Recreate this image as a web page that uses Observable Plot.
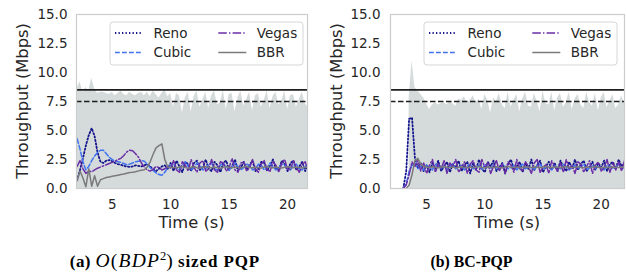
<!DOCTYPE html>
<html><head><meta charset="utf-8">
<script src="https://cdn.jsdelivr.net/npm/d3@7"></script>
<script src="https://cdn.jsdelivr.net/npm/@observablehq/plot@0.6"></script>
<style>
html,body{margin:0;padding:0;background:#fff;}
#wrap{position:relative;width:626px;height:272px;overflow:hidden;font-family:"DejaVu Sans",sans-serif;}
#pa{position:absolute;left:0;top:0;}
#pb{position:absolute;left:313px;top:0;}
#cap{position:absolute;left:0;top:0;}
</style></head><body>
<div id="wrap"><div id="pa"></div><div id="pb"></div><svg id="cap" width="626" height="272"></svg></div>
<script>
// ---- data ----
const T = [2,2.25,2.5,2.75,3,3.25,3.5,3.75,4,4.25,4.5,4.75,5,5.25,5.5,5.75,6,6.25,6.5,6.75,7,7.25,7.5,7.75,8,8.25,8.5,8.75,9,9.25,9.5,9.75,10,10.25,10.5,10.75,11,11.25,11.5,11.75,12,12.25,12.5,12.75,13,13.25,13.5,13.75,14,14.25,14.5,14.75,15,15.25,15.5,15.75,16,16.25,16.5,16.75,17,17.25,17.5,17.75,18,18.25,18.5,18.75,19,19.25,19.5,19.75,20,20.25,20.5,20.75,21,21.25,21.5,21.75,22];
const SERIES = ["Reno","Cubic","Vegas","BBR"];
const X_TICKS = [5,10,15,20];
const Y_TICKS = [0,2.5,5,7.5,10,12.5,15];
const LINK_RATE = 8.5;
const THRESHOLD = 7.5;

// (a) O(BDP^2) sized PQP
const capA = [8.6,9.2,8.3,8.7,8.4,9.5,8.6,8.2,8.3,8.3,8.2,8.1,8.3,8.0,8.2,8.4,8.1,8.0,8.3,8.1,8.0,8.2,8.3,8.0,8.3,7.9,8.4,8.1,7.8,8.2,8.5,7.9,8.2,
  7.0,8.2,8.0,6.5,7.8,8.3,6.6,7.9,8.4,7.0,7.6,8.3,6.9,8.0,8.4,7.2,7.4,8.5,6.8,8.1,8.2,6.6,7.8,8.4,7.1,7.7,8.3,6.7,8.0,8.2,7.0,7.6,8.4,6.9,7.9,8.3,7.2,7.5,8.4,6.8,8.0,8.1,7.0,7.7,8.3,7.3,7.0,7.6];
const renoA = [0.7,1.6,2.6,3.7,4.6,5.2,4.5,3.1,2.3,2.2,2.4,2.45,2.35,2.2,2.1,2.05,1.95,1.9,1.85,1.9,2.0,1.95,1.9,2.0,2.1,1.9,1.65,1.5,1.7,1.9,2.0,1.7,2.2,
  1.5,2.4,1.9,1.4,2.3,2.1,1.5,2.2,2.4,1.6,1.8,2.5,1.7,1.5,2.3,2.0,1.4,2.2,2.4,1.6,1.9,2.5,1.5,1.8,2.3,1.6,2.0,2.4,1.5,1.7,2.3,2.2,1.5,2.0,2.5,1.7,1.6,2.4,2.1,1.5,2.2,2.4,1.6,1.9,2.3,1.5,2.1,2.2];
const cubicA = [4.3,3.4,2.3,1.6,1.9,2.4,2.8,3.1,3.3,3.3,3.0,2.7,2.5,2.35,2.3,2.25,2.15,2.05,2.1,2.2,2.3,2.35,2.4,2.35,2.1,1.8,1.55,1.35,1.2,1.15,1.4,1.8,2.0,
  2.1,1.8,1.6,2.0,2.3,1.9,1.6,1.8,2.2,2.0,1.6,1.7,2.1,2.2,1.7,1.6,2.0,2.2,1.8,1.6,1.9,2.2,1.9,1.6,1.8,2.1,2.0,1.6,1.7,2.1,2.0,1.6,1.8,2.2,1.9,1.6,1.8,2.1,2.0,1.7,1.6,2.0,2.1,1.7,1.6,1.9,2.1,1.8];
const vegasA = [1.9,2.4,1.7,1.3,1.5,1.45,1.6,1.75,1.85,1.95,2.05,2.15,2.25,2.35,2.5,2.6,2.85,3.15,3.3,3.25,3.0,2.7,2.2,1.85,1.6,1.5,1.65,1.9,1.8,1.6,1.7,1.9,1.75,
  2.4,1.6,1.4,2.3,2.0,1.5,2.5,1.8,1.4,2.2,2.4,1.5,1.7,2.5,1.6,1.4,2.3,2.2,1.5,1.8,2.6,1.6,1.4,2.2,2.3,1.5,1.8,2.5,1.7,1.4,2.1,2.4,1.6,1.5,2.3,2.0,1.4,2.2,2.5,1.6,1.7,2.4,1.8,1.4,2.1,2.3,1.6,1.9];
const bbrA = [0.7,1.5,0.9,0.15,1.7,0.2,1.1,0.2,0.75,0.85,0.95,1.0,1.05,1.1,1.15,1.2,1.25,1.32,1.38,1.4,1.45,1.52,1.58,1.62,1.85,2.3,2.95,3.5,3.7,3.85,2.5,1.85,1.8,
  1.82,1.78,1.85,1.9,1.8,1.75,1.83,1.88,1.8,1.76,1.84,1.9,1.82,1.78,1.86,1.8,1.75,1.84,1.9,1.83,1.78,1.85,1.8,1.76,1.86,1.92,1.82,1.78,1.84,1.8,1.76,1.85,1.9,1.82,1.78,1.86,1.8,1.76,1.84,1.88,1.8,1.78,1.85,1.82,1.76,1.84,1.86,1.8];

// (b) BC-PQP
const capB = [null,null,null,null,null,null,7.8,11.0,8.7,8.4,8.1,7.8,7.3,6.8,7.2,7.4,7.2,7.3,7.4,7.2,7.5,7.3,7.1,7.7,7.6,7.9,7.3,7.6,8.0,7.4,7.7,6.8,8.1,7.6,6.5,7.8,7.5,8.2,7.2,6.9,8.3,
  7.0,7.6,8.1,6.6,7.7,8.3,7.1,7.0,8.2,7.5,6.6,8.4,7.3,7.2,8.3,6.7,7.8,8.2,7.0,7.4,8.3,6.8,7.7,8.1,7.2,6.9,8.3,7.4,7.1,8.2,6.7,7.8,8.3,7.0,7.5,8.1,6.9,7.2,8.0,7.3];
const renoB = [null,null,null,null,0.0,1.5,6.0,6.1,2.6,1.8,2.2,1.5,2.0,1.4,2.2,
  1.7,2.4,1.5,1.9,2.3,1.4,2.1,1.8,2.4,1.5,2.0,2.3,1.3,2.2,1.6,2.5,1.7,1.4,2.3,1.9,2.4,1.5,1.8,2.2,1.3,2.1,2.5,1.6,1.9,2.3,1.4,2.2,1.7,
  2.5,1.6,2.0,2.4,1.4,1.9,2.3,1.6,2.2,1.5,2.4,1.8,1.5,2.3,1.7,2.5,1.6,2.1,2.4,1.5,1.9,2.3,1.6,2.2,1.8,2.4,1.5,2.1,2.3,1.7,2.5,1.9,2.2];
const cubicB = [null,null,null,null,0.0,0.4,1.5,2.0,2.2,
  1.7,1.9,1.6,2.0,1.8,1.6,2.1,1.9,1.7,2.0,1.6,1.9,2.1,1.7,1.8,2.0,1.6,1.9,2.1,1.7,1.8,2.0,1.6,2.1,1.9,1.7,2.0,1.8,1.6,2.1,1.9,1.7,1.8,2.0,1.6,1.9,
  2.1,1.7,1.9,1.8,1.6,2.0,2.1,1.7,1.8,1.9,1.6,2.0,1.8,1.7,2.1,1.9,1.6,1.8,2.0,1.7,1.9,2.1,1.6,1.8,2.0,1.7,1.9,1.8,1.6,2.0,1.9,1.7,1.8,2.1,1.7,1.8];
const vegasB = [null,null,null,null,0.0,0.3,1.2,2.3,1.9,
  2.4,1.5,2.2,1.3,2.0,2.5,1.4,2.1,1.7,2.4,1.3,2.2,1.9,2.5,1.4,1.8,2.3,1.3,2.1,2.4,1.6,1.4,2.5,1.8,2.2,1.3,1.9,2.4,1.5,2.1,1.3,2.3,2.0,1.4,2.5,1.7,
  1.5,2.3,1.9,1.3,2.2,2.5,1.4,1.8,2.1,1.3,2.4,1.9,1.5,2.2,1.4,2.5,1.7,2.0,1.3,2.3,2.1,1.4,1.9,2.4,1.3,2.0,2.3,1.5,1.8,2.5,1.4,2.2,1.6,2.3,1.5,2.4];
const bbrB = [null,null,null,null,null,0.0,0.3,1.2,2.4,2.6,2.1,1.9,
  1.85,1.8,1.88,1.82,1.78,1.86,1.9,1.83,1.8,1.85,1.78,1.84,1.88,1.82,1.79,1.86,1.8,1.84,1.9,1.82,1.78,1.85,1.83,1.8,1.87,1.82,
  1.78,1.85,1.9,1.83,1.8,1.86,1.79,1.84,1.88,1.82,1.8,1.86,1.83,1.78,1.85,1.89,1.82,1.8,1.86,1.83,1.78,1.85,1.9,1.82,1.8,1.84,
  1.88,1.82,1.79,1.86,1.8,1.84,1.9,1.83,1.78,1.85,1.82,1.8,1.86,1.83,1.8,1.85,1.82];

// ---- styles ----
const STY = {
  Reno:  {c:"#14148c", w:1.8, d:"1.3,2.2"},
  Cubic: {c:"#3f72f0", w:1.5, d:"4.8,2.2"},
  Vegas: {c:"#6a2ea6", w:1.5, d:"8.5,2.2,1.4,2.2"},
  BBR:   {c:"#7a7a7a", w:1.5, d:null}
};
const TXT = "#262626";

function panel(el, cfg){
  const rows = T.map((t,i)=>({t, cap: cfg.cap[i] ?? null, Reno: cfg.reno[i] ?? null, Cubic: cfg.cubic[i] ?? null, Vegas: cfg.vegas[i] ?? null, BBR: cfg.bbr[i] ?? null}));
  const W = 313, H = 232, mt = 14, mb = 44;
  const svg = Plot.plot({
    width: W, height: H,
    marginLeft: cfg.ml, marginRight: cfg.mr, marginTop: mt, marginBottom: mb,
    style: {background:"#fff", fontFamily:"DejaVu Sans", fontSize:"13.5px", color: TXT, overflow:"visible"},
    x: {domain: cfg.xdom, ticks: X_TICKS, tickSize: 0, tickPadding: 11, label: null},
    y: {domain: [0,15], ticks: Y_TICKS, tickFormat: d3.format(".1f"), tickSize: 0, tickPadding: cfg.ytp, label: null},
    marks: [
      Plot.areaY(rows, {x:"t", y1: d => 0, y2:"cap", fill:"#d5dbdb", clip:true}),
      Plot.ruleY([LINK_RATE], {stroke:"#1e1e1e", strokeWidth:1.6}),
      Plot.ruleY([THRESHOLD], {stroke:"#1e1e1e", strokeWidth:1.6, strokeDasharray:"5.5,2.5"}),
      ...SERIES.map(s => Plot.line(rows, {x:"t", y:s, stroke:STY[s].c, strokeWidth:STY[s].w, strokeDasharray:STY[s].d, clip:true})),
      Plot.frame({stroke:"#cccccc", strokeWidth:1.2})
    ]
  });
  const s = d3.select(svg);
  const fx0 = cfg.ml, fx1 = W - cfg.mr, fy0 = mt, fy1 = H - mb;
  // axis labels
  s.append("text").attr("x", (fx0+fx1)/2).attr("y", 227.5).attr("text-anchor","middle")
    .attr("font-family","DejaVu Sans").attr("font-size","16.3px").attr("fill",TXT).text("Time (s)");
  s.append("text").attr("transform",`translate(${cfg.ylx},${(fy0+fy1)/2}) rotate(-90)`).attr("text-anchor","middle")
    .attr("font-family","DejaVu Sans").attr("font-size","16.3px").attr("fill",TXT).text("Throughput (Mbps)");
  // legend
  const lx = cfg.lx, ly = 22;
  const g = s.append("g");
  g.append("rect").attr("x",lx).attr("y",ly).attr("width",193).attr("height",43).attr("rx",3)
    .attr("fill","#fff").attr("fill-opacity",0.85).attr("stroke","#d6d6d6").attr("stroke-width",1);
  SERIES.forEach((k,i)=>{
    const col = Math.floor(i/2), row = i%2;
    const x1 = lx + 5 + col*103.3, y = ly + 11 + row*19.5;
    g.append("line").attr("x1",x1).attr("x2",x1+28).attr("y1",y).attr("y2",y)
      .attr("stroke",STY[k].c).attr("stroke-width",STY[k].w).attr("stroke-dasharray",STY[k].d);
    g.append("text").attr("x",x1+38.5).attr("y",y).attr("dy","0.36em").attr("text-anchor","start")
      .attr("font-family","DejaVu Sans").attr("font-size","13.5px").attr("fill",TXT).text(k);
  });
  el.appendChild(svg);
}

panel(document.getElementById("pa"), {cap:capA, reno:renoA, cubic:cubicA, vegas:vegasA, bbr:bbrA,
  ml:76, mr:6, xdom:[1.95,21.7], ytp:9, ylx:27.5, lx:110});
panel(document.getElementById("pb"), {cap:capB, reno:renoB, cubic:cubicB, vegas:vegasB, bbr:bbrB,
  ml:77, mr:2, xdom:[1.9,22.0], ytp:10, ylx:29, lx:111});

// captions
const cap = d3.select("#cap");
const ff = "Liberation Serif";
const ta = cap.append("text").attr("x",165).attr("y",267).attr("text-anchor","middle")
  .attr("font-family",ff).attr("font-size","17px").attr("fill","#000");
ta.append("tspan").attr("font-weight","bold").attr("letter-spacing","0.4px").text("(a) ");
ta.append("tspan").attr("font-style","italic").attr("font-size","19.5px").attr("letter-spacing","1.2px").text("O");
ta.append("tspan").attr("font-size","19.5px").attr("letter-spacing","1.2px").text("(");
ta.append("tspan").attr("font-style","italic").attr("font-size","19.5px").attr("letter-spacing","1.2px").text("BDP");
ta.append("tspan").attr("font-size","12.5px").attr("dy",-7.5).text("2");
ta.append("tspan").attr("font-size","19.5px").attr("dy",7.5).text(")");
ta.append("tspan").attr("font-weight","bold").attr("letter-spacing","0.9px").text(" sized PQP");
const tb = cap.append("text").attr("x",471.5).attr("y",267).attr("text-anchor","middle")
  .attr("font-family",ff).attr("font-size","15.8px").attr("fill","#000");
tb.append("tspan").attr("font-weight","bold").text("(b) BC-PQP");
</script></body></html>
